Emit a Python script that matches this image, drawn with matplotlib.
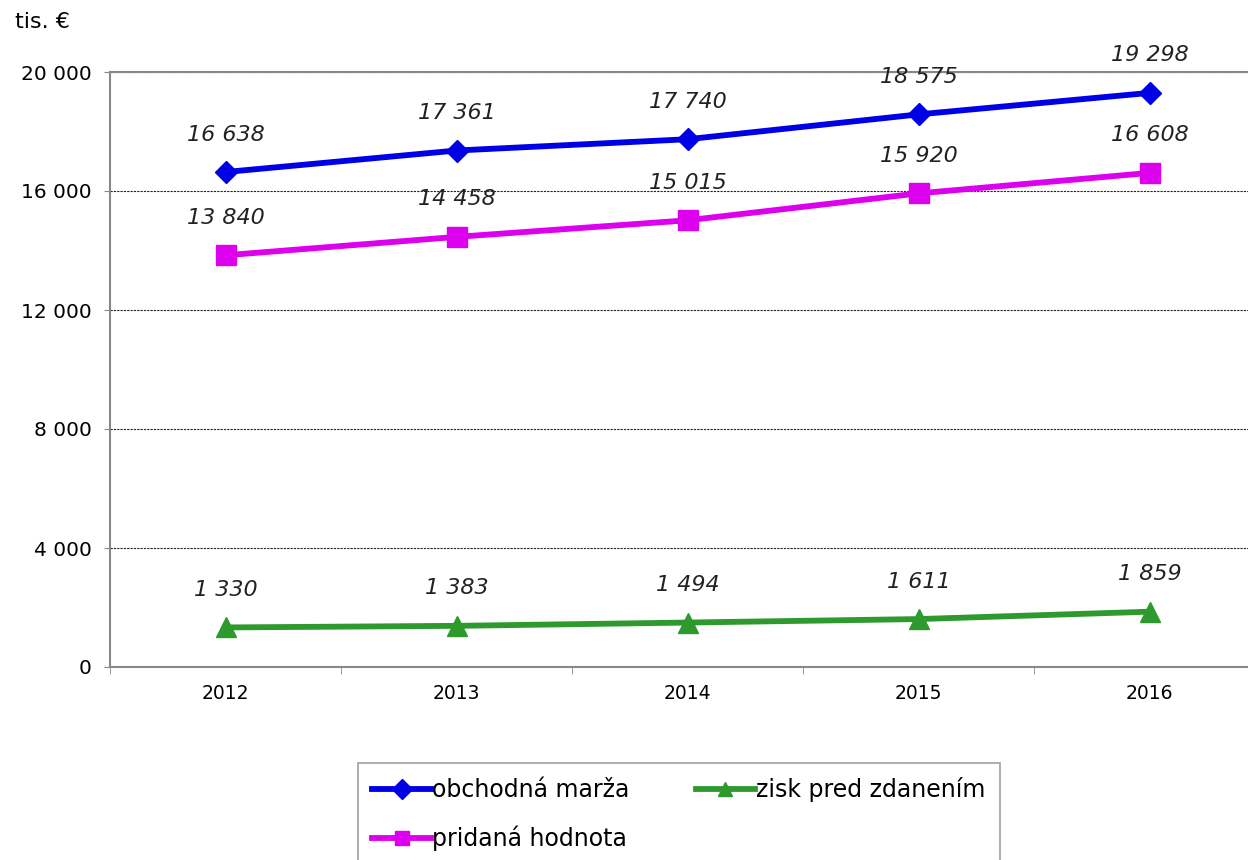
import matplotlib
matplotlib.use("Agg")
import matplotlib.pyplot as plt
from matplotlib.ticker import FixedLocator, FuncFormatter

years = ["2012", "2013", "2014", "2015", "2016"]
obchodna_marza = [16638, 17361, 17740, 18575, 19298]
pridana_hodnota = [13840, 14458, 15015, 15920, 16608]
zisk_pred_zdanenim = [1330, 1383, 1494, 1611, 1859]
y_ticks = [0, 4000, 8000, 12000, 16000, 20000]

plt.rcParams['font.family'] = ['DejaVu Sans']

def fmt(v):
    return f"{int(v):,}".replace(",", " ")

fig = plt.figure(figsize=(12.48, 8.6), dpi=100)
ax = fig.add_axes([110/1248, 193/860, 1155/1248, 595/860])

x = list(range(len(years)))
series = [
    (obchodna_marza, "obchodná marža", "#0000E6", "D", 11),
    (pridana_hodnota, "pridaná hodnota", "#DD00EE", "s", 15),
    (zisk_pred_zdanenim, "zisk pred zdanením", "#2E9A2E", "^", 14),
]
handles = []
for vals, name, col, mk, ms in series:
    h, = ax.plot(x, vals, color=col, lw=4.2, marker=mk, markersize=ms,
                 markerfacecolor=col, markeredgecolor=col, label=name, zorder=3)
    handles.append(h)
    for xi, v in zip(x, vals):
        ax.annotate(fmt(v), (xi, v), xytext=(0, 27), textcoords="offset points",
                    ha="center", va="center", fontsize=16, style="italic", color="#222222")

ax.set_xlim(-0.5, len(years) - 0.5)
ax.set_ylim(0, 20000)
ax.yaxis.set_major_locator(FixedLocator(y_ticks))
ax.yaxis.set_major_formatter(FuncFormatter(lambda v, p: fmt(v)))
ax.set_xticks(x)
ax.set_xticklabels(years)
ax.set_xticks([i - 0.5 for i in range(len(years) + 1)], minor=True)
ax.tick_params(axis="x", which="major", length=0, labelsize=13.5, pad=12)
ax.tick_params(axis="x", which="minor", length=5, color="#888888", direction="out")
ax.tick_params(axis="y", length=4, color="#888888", labelsize=14.5, pad=9)

ax.yaxis.grid(True, linestyle=(0, (2, 1)), color="#222222", linewidth=0.8)
ax.set_axisbelow(True)
for s in ["left", "bottom", "top"]:
    ax.spines[s].set_color("#888888")
    ax.spines[s].set_linewidth(1.5)
ax.spines["right"].set_visible(False)

fig.text(15/1248, 1 - 22/860, "tis. €", fontsize=16, va="center", ha="left")

leg = fig.legend(handles=[handles[0], handles[1], handles[2]],
                 labels=["obchodná marža", "pridaná hodnota", "zisk pred zdanením"],
                 ncol=2, loc="upper left", bbox_to_anchor=(358/1248, 1 - 763/860),
                 bbox_transform=fig.transFigure, fontsize=17, frameon=True, fancybox=False,
                 handlelength=2.5, handletextpad=0.05, columnspacing=2.8,
                 labelspacing=1.0, borderaxespad=0, borderpad=0.6)
leg.get_frame().set_edgecolor("#888888")
leg.get_frame().set_linewidth(1.2)
for lh in leg.legend_handles:
    lh.set_markersize(10)

fig.savefig("out.png", dpi=100)
